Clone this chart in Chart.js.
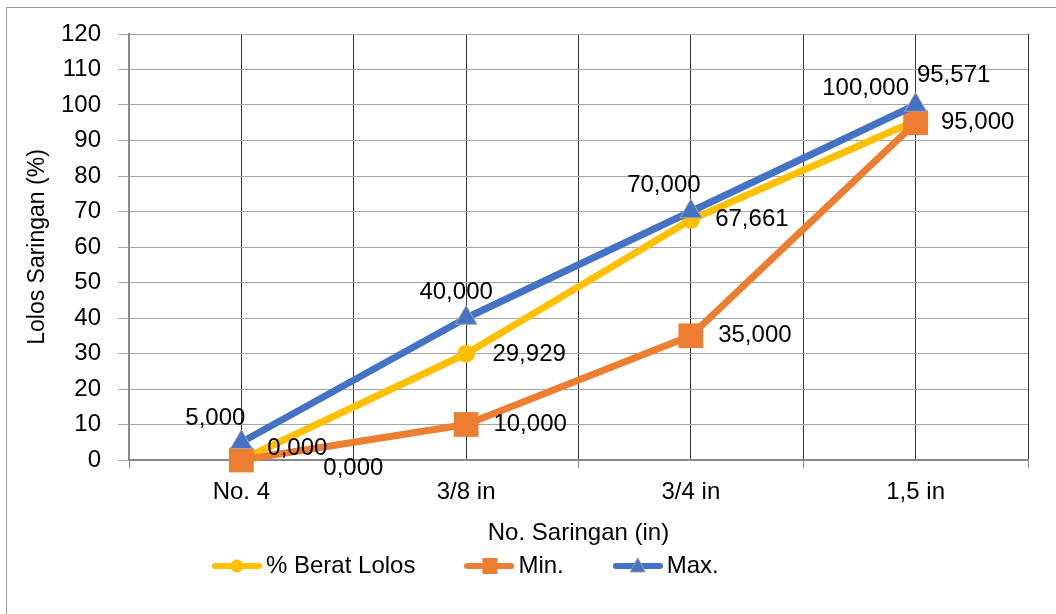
<!DOCTYPE html>
<html>
<head>
<meta charset="utf-8">
<script src="https://cdn.jsdelivr.net/npm/chart.js@4.4.1/dist/chart.umd.min.js"></script>
<style>
  html, body { margin: 0; padding: 0; background: #ffffff; overflow: hidden; }
  #wrap { position: relative; width: 1056px; height: 614px; }
  #wrap canvas { position: absolute; left: 0; top: 0; }
  #frame { position: absolute; left: 6px; top: 7px; width: 1100px; height: 700px;
           border-left: 1px solid #a0a0a0; border-top: 1px solid #a0a0a0; pointer-events: none; }
</style>
</head>
<body>
<div id="wrap">
  <canvas id="chart" width="1056" height="614"></canvas>
  <div id="frame"></div>
</div>
<script>
// Sieve sizes and passing percentages
const sieves = ['No. 4', '3/8 in', '3/4 in', '1,5 in'];
const passing = [0, 29.929, 67.661, 95.571];   // % Berat Lolos
const specMin = [0, 10, 35, 95];               // Min.
const specMax = [5, 40, 70, 100];              // Max.

// Value label offsets (px) from each point
const shiftPassing = [[56, -12], [63, 1], [61, 0], [38, -45]];
const shiftMin = [[112, 8], [64, 0], [64, 0], [62, 0]];
const shiftMax = [[-26, -24], [-10, -26], [-27, -26], [-50, -17]];

const FONT = '"Liberation Sans", Arial, sans-serif';
const YELLOW = '#FFC000', ORANGE = '#ED7D31', BLUE = '#4472C4';

Chart.defaults.font.family = FONT;
Chart.defaults.font.size = 24;
Chart.defaults.color = '#000000';

const fmt = v => v.toFixed(3).replace('.', ',');

// Legend icons: a short thick line with the series marker in the middle
function makeIcon(color, marker) {
  const c = document.createElement('canvas');
  c.width = 50; c.height = 24;
  const g = c.getContext('2d');
  g.strokeStyle = color; g.lineWidth = 6; g.lineCap = 'round';
  g.beginPath(); g.moveTo(3, 12); g.lineTo(47, 12); g.stroke();
  g.fillStyle = color;
  if (marker === 'circle') {
    g.beginPath(); g.arc(25, 12, 6.5, 0, Math.PI * 2); g.fill();
  } else if (marker === 'rect') {
    g.fillRect(18, 4, 15, 16);
  } else {
    g.beginPath(); g.moveTo(25, 4); g.lineTo(32.5, 18); g.lineTo(17.5, 18); g.closePath();
    g.fill(); g.strokeStyle = '#a5a5a5'; g.lineWidth = 1; g.stroke();
  }
  return c;
}
const legendIcons = [makeIcon(YELLOW, 'circle'), makeIcon(ORANGE, 'rect'), makeIcon(BLUE, 'triangle')];

// Numeric labels next to every point
const valueLabels = {
  id: 'valueLabels',
  afterDatasetsDraw(chart) {
    const ctx = chart.ctx;
    ctx.save();
    ctx.font = '24px ' + FONT;
    ctx.fillStyle = '#000000';
    ctx.textAlign = 'center';
    ctx.textBaseline = 'middle';
    chart.data.datasets.forEach((ds, i) => {
      const meta = chart.getDatasetMeta(i);
      meta.data.forEach((pt, j) => {
        const s = ds.labelShift[j];
        ctx.fillText(fmt(ds.data[j]), pt.x + s[0], pt.y + s[1]);
      });
    });
    ctx.restore();
  }
};

// Place the legend row under the axis title
const legendStartX = 220;
const legendTextY = 566;
const legendPlacement = {
  id: 'legendPlacement',
  afterLayout(chart) {
    const lg = chart.legend;
    if (!lg || !lg.lineWidths) return;
    const p = lg.options.labels.padding;
    const start = (lg.left + p + lg.right - lg.lineWidths[0]) / 2;
    const dx = legendStartX - start;
    lg.left += dx; lg.right += dx;
    lg.top = legendTextY - p - 12;
    lg.height = p + 24 + 20;
    lg.bottom = lg.top + lg.height;
  }
};

new Chart(document.getElementById('chart'), {
  type: 'line',
  data: {
    labels: sieves,
    datasets: [
      {
        label: '% Berat Lolos', data: passing, labelShift: shiftPassing, xAxisID: 'x',
        borderColor: YELLOW, backgroundColor: YELLOW, borderWidth: 7,
        borderJoinStyle: 'round', borderCapStyle: 'round',
        pointStyle: 'circle', pointRadius: 9, pointBorderWidth: 0,
        pointBackgroundColor: YELLOW, order: 3, clip: false
      },
      {
        label: 'Min.', data: specMin, labelShift: shiftMin, xAxisID: 'x',
        borderColor: ORANGE, backgroundColor: ORANGE, borderWidth: 7,
        borderJoinStyle: 'round', borderCapStyle: 'round',
        pointStyle: 'rect', pointRadius: 17.5, pointBorderWidth: 0,
        pointBackgroundColor: ORANGE, order: 2, clip: false
      },
      {
        label: 'Max.', data: specMax, labelShift: shiftMax, xAxisID: 'x',
        borderColor: BLUE, backgroundColor: BLUE, borderWidth: 7,
        borderJoinStyle: 'round', borderCapStyle: 'round',
        pointStyle: 'triangle', pointRadius: 12.5, pointBorderWidth: 1,
        pointBorderColor: '#a5a5a5', pointBackgroundColor: BLUE, order: 1, clip: false
      }
    ]
  },
  options: {
    responsive: false,
    animation: false,
    devicePixelRatio: 1,
    layout: { padding: { left: 0, right: 28, top: 34, bottom: 0 } },
    plugins: {
      tooltip: { enabled: false },
      legend: {
        position: 'bottom',
        maxHeight: 30,
        labels: {
          usePointStyle: true,
          pointStyleWidth: 34,
          padding: 57,
          color: '#000000',
          font: { size: 24, family: FONT },
          generateLabels(chart) {
            return chart.data.datasets.map((ds, i) => ({
              text: ds.label,
              pointStyle: legendIcons[i],
              datasetIndex: i,
              hidden: false,
              fillStyle: ds.borderColor,
              strokeStyle: ds.borderColor,
              lineWidth: 0,
              fontColor: '#000000'
            }));
          }
        }
      }
    },
    scales: {
      x: {
        type: 'category',
        position: 'bottom',
        offset: true,
        grid: { offset: true, color: '#333333', lineWidth: 1, drawTicks: true, tickLength: 8, tickColor: '#898989' },
        border: { display: true, color: '#898989', width: 2 },
        ticks: { padding: 10, color: '#000000', font: { size: 24 }, maxRotation: 0, autoSkip: false },
        title: { display: true, text: 'No. Saringan (in)', color: '#000000', font: { size: 24 },
                 padding: { top: 0, bottom: 36 } },
        afterFit(s) { s.height = 124; }
      },
      x2: {
        type: 'category',
        position: 'bottom',
        offset: true,
        grid: { offset: false, color: '#333333', lineWidth: 1, drawTicks: false },
        border: { display: false },
        ticks: { display: false },
        afterFit(s) { s.height = 0; }
      },
      y: {
        type: 'linear',
        min: 0,
        max: 120,
        ticks: { stepSize: 10, padding: 17, color: '#000000', font: { size: 24 } },
        grid: { color: '#a6a6a6', lineWidth: 1, tickLength: 11 },
        border: { color: '#898989', width: 2 },
        title: { display: true, text: 'Lolos Saringan (%)', color: '#000000', font: { size: 23 },
                 padding: { top: 24, bottom: 0 } },
        afterFit(s) { s.width = 129; }
      }
    }
  },
  plugins: [valueLabels, legendPlacement]
});
</script>
</body>
</html>
